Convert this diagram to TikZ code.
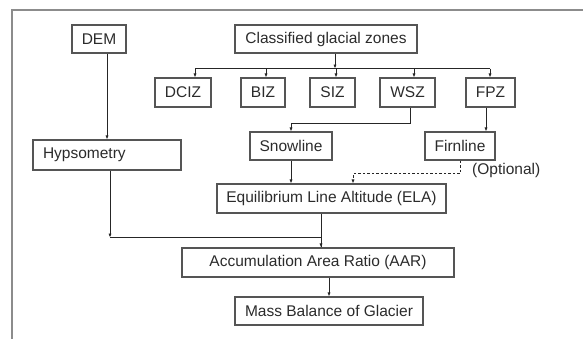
\documentclass[tikz,border=0pt]{standalone}
\usepackage{fontspec}
\setmainfont{Liberation Sans}
\usetikzlibrary{arrows.meta,calc}
\definecolor{boxgray}{HTML}{555555}
\definecolor{framegray}{HTML}{8C8C8C}
\definecolor{txtgray}{HTML}{2B2B2B}

\begin{document}
\begin{tikzpicture}[x=1pt, y=-1pt, font=\fontsize{15.5}{18}\selectfont,
  box/.style={draw=boxgray, line width=1.1pt, text=txtgray, inner sep=0pt, minimum height=28pt},
  arr/.style={-{Latex[length=4pt,width=3.2pt]}, line width=0.8pt, black!85},
  link/.style={line width=0.8pt, black!85}]
  \useasboundingbox (0,0) rectangle (583,339);
  \draw[framegray, line width=1.4pt] (12,339) -- (12,10) -- (583,10);

  \node[box, minimum width=54pt] (dem) at (99,39) {DEM};
  \node[box, minimum width=182pt] (cgz) at (326,39) {Classified glacial zones};
  \foreach \z/\zx/\zw/\zt in {dciz/183/56/DCIZ, biz/263/44/BIZ, siz/332.5/45/SIZ,
                              wsz/407.5/55/WSZ, fpz/490.5/49/FPZ} {
    \node[box, minimum width=\zw pt, minimum height=29pt] (\z) at (\zx,92.5) {\zt};
  }
  \coordinate (bus) at ($(cgz.south)+(9,15)$);
  \draw[arr] ([xshift=9]cgz.south) -- (bus);
  \foreach \z/\dx in {dciz/12, biz/3, siz/3.5, wsz/6.5, fpz/-0.5} {
    \coordinate (in\z) at ([xshift=\dx]\z.north);
    \draw[arr] (in\z |- bus) -- (in\z);
  }
  \draw[link] (indciz |- bus) -- (infpz |- bus);

  \node[box, minimum height=30pt, text width=128pt, inner xsep=10pt, align=left] (hyp) at (107,155) {Hypsometry};
  \draw[arr] (hyp.north |- dem.south) -- (hyp.north);

  \node[box, minimum width=82pt] (snow) at (291,146) {Snowline};
  \node[box, minimum width=70pt] (firn) at (460,146) {Firnline};
  \draw[arr] ([xshift=2.5]wsz.south) -- ++(0,16) -| (snow.north);
  \coordinate (infirn) at ([xshift=-4.5]fpz.south);
  \draw[arr] (infirn) -- (infirn |- firn.north);

  \node[box, minimum width=229pt, minimum height=29pt] (ela) at (331.5,198.5) {Equilibrium Line Altitude (ELA)};
  \draw[arr] (snow.south) -- (snow.south |- ela.north);
  \coordinate (optknee) at ($(firn.south)+(0,13)$);
  \coordinate (inela) at ([xshift=21.5]ela.north);
  \draw[arr, dash pattern=on 2.5pt off 2pt] (firn.south) -- (optknee) -| (inela);
  \node[text=txtgray, anchor=west, inner sep=0pt] (opt) at ($(optknee)+(12,-3)$) {(Optional)};

  \node[box, minimum width=272pt, minimum height=29pt] (aar) at (318,262.5) {Accumulation Area Ratio (AAR)};
  \coordinate (inaar) at ([xshift=3]aar.north);
  \draw[arr] (inaar |- ela.south) -- (inaar);
  \coordinate (hypknee) at ($([xshift=3]hyp.south)+(0,67)$);
  \draw[arr] ([xshift=3]hyp.south) -- (hypknee);
  \draw[link] (hypknee) -| (inaar);

  \node[box, minimum width=188pt] (mb) at (329,311) {Mass Balance of Glacier};
  \draw[arr] (mb.north |- aar.south) -- (mb.north);
\end{tikzpicture}
\end{document}
